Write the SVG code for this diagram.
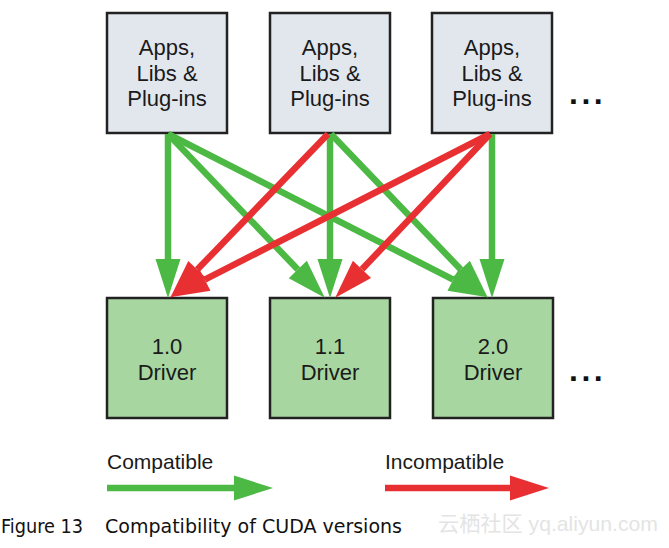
<svg xmlns="http://www.w3.org/2000/svg" width="669" height="548" viewBox="0 0 669 548">
<defs>
<style>
.app{fill:#e2e7ee;stroke:#222;stroke-width:2.5}
.drv{fill:#a8d6a0;stroke:#222;stroke-width:2.5}
.lbl{font-family:"Liberation Sans",Arial,sans-serif;font-size:22px;fill:#1a1a1a;text-anchor:middle}
.g{stroke:#4cb944;stroke-width:6.5;fill:none;marker-end:url(#ag)}
.r{stroke:#e83033;stroke-width:6.5;fill:none;marker-end:url(#ar)}
.leg{font-family:"Liberation Sans",Arial,sans-serif;font-size:21px;fill:#1a1a1a}
.cap{font-family:"DejaVu Sans Condensed","DejaVu Sans",sans-serif;font-size:20px;fill:#111}
.dots{font-family:"Liberation Sans",Arial,sans-serif;font-size:32px;font-weight:bold;fill:#111;letter-spacing:3.5px}
</style>
<marker id="ag" markerUnits="userSpaceOnUse" markerWidth="40" markerHeight="26" refX="0" refY="12.5" orient="auto" overflow="visible">
<path d="M0,0 L39,12.5 L0,25 z" fill="#4cb944"/>
</marker>
<marker id="ar" markerUnits="userSpaceOnUse" markerWidth="40" markerHeight="26" refX="0" refY="12.5" orient="auto" overflow="visible">
<path d="M0,0 L39,12.5 L0,25 z" fill="#e83033"/>
</marker>
</defs>
<rect width="669" height="548" fill="#fff"/>

<g id="app1"><rect class="app" x="107" y="13" width="120" height="120"/>
<text class="lbl" x="167" y="55">Apps,</text><text class="lbl" x="167" y="81">Libs &amp;</text><text class="lbl" x="167" y="106">Plug-ins</text></g>
<g id="app2"><rect class="app" x="270" y="13" width="120" height="120"/>
<text class="lbl" x="330" y="55">Apps,</text><text class="lbl" x="330" y="81">Libs &amp;</text><text class="lbl" x="330" y="106">Plug-ins</text></g>
<g id="app3"><rect class="app" x="432" y="13" width="120" height="120"/>
<text class="lbl" x="492" y="55">Apps,</text><text class="lbl" x="492" y="81">Libs &amp;</text><text class="lbl" x="492" y="106">Plug-ins</text></g>
<g id="dots-top"><text class="dots" x="569" y="104">...</text></g>

<g id="drv1"><rect class="drv" x="107" y="298" width="120" height="120"/>
<text class="lbl" x="167" y="354">1.0</text><text class="lbl" x="167" y="380">Driver</text></g>
<g id="drv2"><rect class="drv" x="270" y="298" width="120" height="120"/>
<text class="lbl" x="330" y="354">1.1</text><text class="lbl" x="330" y="380">Driver</text></g>
<g id="drv3"><rect class="drv" x="433" y="298" width="120" height="120"/>
<text class="lbl" x="493" y="354">2.0</text><text class="lbl" x="493" y="380">Driver</text></g>
<g id="dots-bottom"><text class="dots" x="569" y="381">...</text></g>

<g id="connectors">
<line class="g" x1="168" y1="134" x2="168" y2="259"/>
<line class="g" x1="330" y1="134" x2="330" y2="259"/>
<line class="g" x1="492" y1="134" x2="492" y2="259"/>
<line class="g" x1="168" y1="134" x2="297.8" y2="269.5"/>
<line class="g" x1="168" y1="134" x2="453.2" y2="279.6"/>
<line class="g" x1="331" y1="134" x2="460.8" y2="269.5"/>
<line class="r" x1="328" y1="134" x2="197.3" y2="269.6"/>
<line class="r" x1="490" y1="134" x2="204.8" y2="279.6"/>
<line class="r" x1="490" y1="134" x2="362" y2="269.3"/>
</g>

<g id="legend">
<text class="leg" x="107" y="469">Compatible</text>
<line class="g" x1="107" y1="488" x2="234" y2="488"/>
<text class="leg" x="385" y="469">Incompatible</text>
<line class="r" x1="385" y1="488" x2="510" y2="488"/>
</g>

<g id="caption">
<text class="cap" x="1" y="533" textLength="82" lengthAdjust="spacingAndGlyphs">Figure 13</text>
<text class="cap" x="105" y="533" textLength="297" lengthAdjust="spacingAndGlyphs">Compatibility of CUDA versions</text>
<text x="438" y="531" textLength="220" lengthAdjust="spacingAndGlyphs" style="font-family:'Liberation Sans','Noto Sans CJK SC',sans-serif;font-size:21px;fill:#e4e4e4">云栖社区 yq.aliyun.com</text>
</g>
</svg>
